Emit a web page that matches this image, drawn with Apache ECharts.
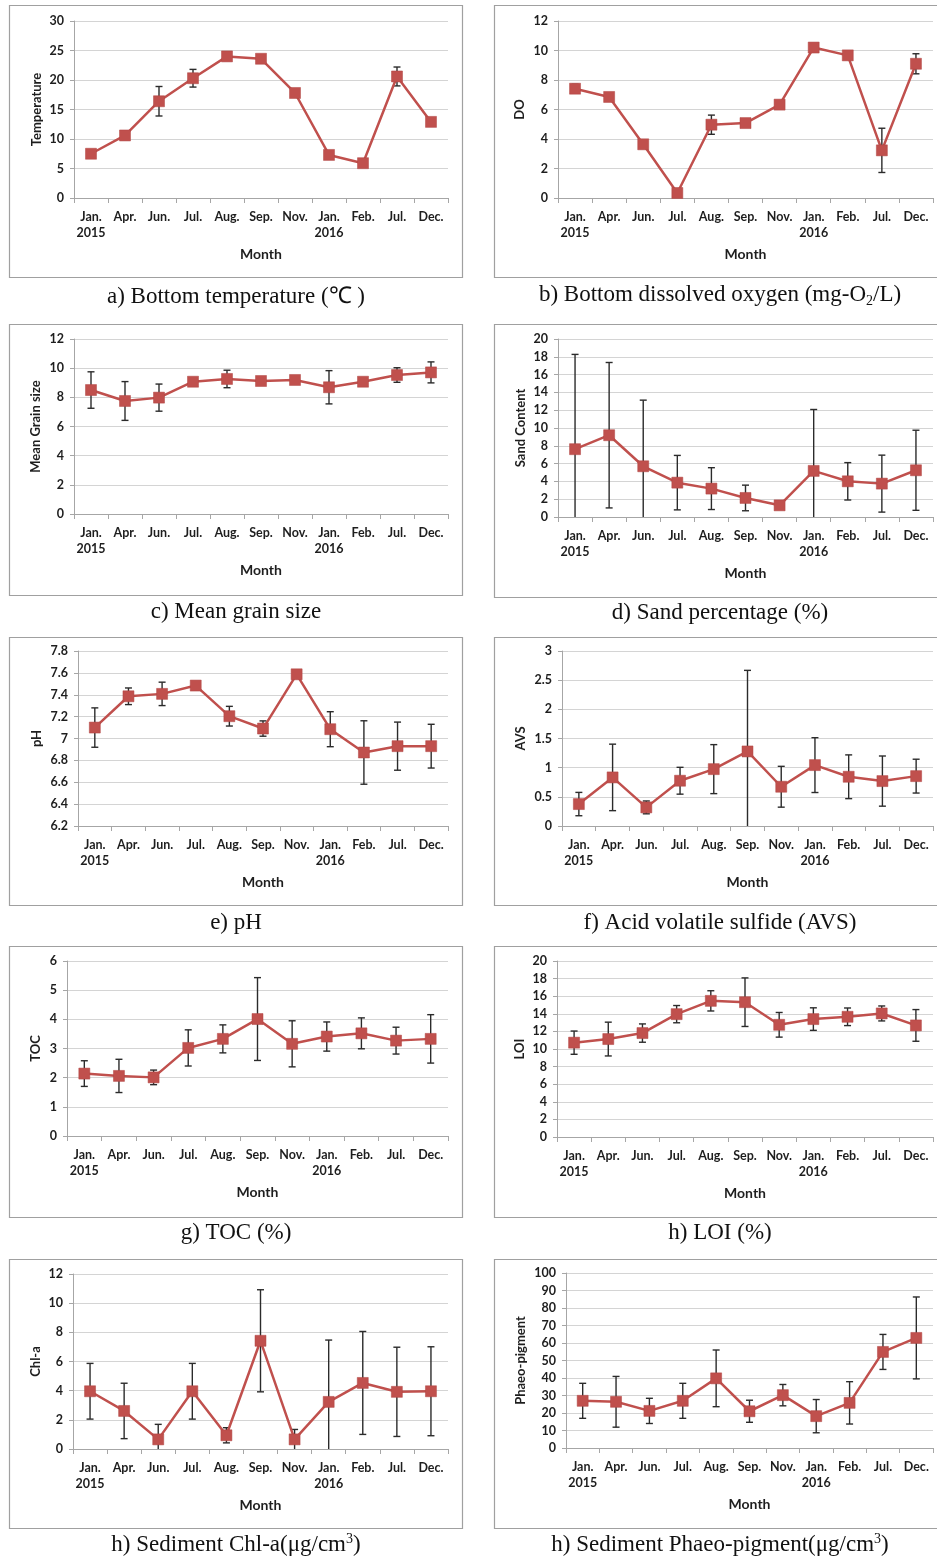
<!DOCTYPE html>
<html>
<head>
<meta charset="utf-8">
<script src="https://cdn.jsdelivr.net/npm/echarts@6/dist/echarts.min.js"></script>
<style>
  html, body { margin: 0; padding: 0; background: #fff; }
  #chart { width: 937px; height: 1559px; }
</style>
</head>
<body>
<div id="chart"></div>
<script>
// months sampled
const months = ['Jan.\n2015', 'Apr.', 'Jun.', 'Jul.', 'Aug.', 'Sep.', 'Nov.', 'Jan.\n2016', 'Feb.', 'Jul.', 'Dec.']

// a) temperature
const tempMean = [7.5, 10.6, 16.4, 20.3, 24.0, 23.6, 17.8, 7.3, 5.9, 20.6, 12.9]
const tempErr = [0.2, 0.2, 2.5, 1.5, 0.2, 0.2, 0.2, 0.2, 0.2, 1.6, 0.2]
// b) DO
const doMean = [7.41, 6.85, 3.64, 0.34, 4.97, 5.08, 6.33, 10.2, 9.67, 3.23, 9.1]
const doErr = [0.3, 0.25, 0.15, 0.15, 0.65, 0.15, 0.15, 0.15, 0.15, 1.5, 0.68]
// c) mean grain size
const grainMean = [8.5, 7.75, 7.98, 9.07, 9.26, 9.12, 9.19, 8.69, 9.07, 9.53, 9.71]
const grainErr = [1.25, 1.33, 0.93, 0.15, 0.6, 0.15, 0.15, 1.14, 0.15, 0.5, 0.72]
// d) sand
const sandMean = [7.62, 9.19, 5.7, 3.86, 3.19, 2.14, 1.31, 5.18, 4.01, 3.75, 5.25]
const sandErr = [10.65, 8.17, 7.43, 3.06, 2.35, 1.44, 0.3, 6.9, 2.1, 3.2, 4.5]
// e) pH
const phMean = [7.1, 7.386, 7.408, 7.484, 7.204, 7.091, 7.587, 7.085, 6.872, 6.93, 6.93]
const phErr = [0.18, 0.076, 0.107, 0.02, 0.09, 0.07, 0.02, 0.16, 0.29, 0.22, 0.2]
// f) AVS
const avsMean = [0.376, 0.833, 0.319, 0.776, 0.975, 1.278, 0.673, 1.044, 0.844, 0.77, 0.855]
const avsErr = [0.2, 0.57, 0.11, 0.23, 0.42, 1.39, 0.35, 0.47, 0.375, 0.43, 0.29]
// g) TOC
const tocMean = [2.14, 2.06, 2.01, 3.02, 3.33, 4.01, 3.16, 3.41, 3.52, 3.27, 3.33]
const tocErr = [0.44, 0.57, 0.25, 0.62, 0.48, 1.42, 0.79, 0.5, 0.53, 0.46, 0.83]
// h) LOI
const loiMean = [10.72, 11.13, 11.81, 13.96, 15.47, 15.32, 12.75, 13.4, 13.66, 14.04, 12.68]
const loiErr = [1.32, 1.92, 1.04, 0.98, 1.15, 2.76, 1.4, 1.28, 1.0, 0.85, 1.8]
// i) Chl-a
const chlMean = [3.96, 2.61, 0.66, 3.96, 0.94, 7.42, 0.66, 3.23, 4.53, 3.92, 3.96]
const chlErr = [1.91, 1.9, 1.03, 1.91, 0.52, 3.5, 0.68, 4.24, 3.53, 3.06, 3.05]
// j) Phaeo-pigment
const phaeoMean = [26.96, 26.4, 21.2, 26.96, 39.8, 21.0, 30.2, 18.2, 25.8, 54.9, 62.9]
const phaeoErr = [10, 14.5, 7.2, 10, 16.2, 6.3, 6.1, 9.5, 12.1, 10, 23.4]

const panels = [
  { name: 'Temperature', mean: tempMean, err: tempErr, min: 0, max: 30, step: 5, caption: 'a) Bottom temperature (℃ )',
    box: [9, 5, 453, 272], grid: [74, 21, 374, 177], nameGap: 31, cap: [236, 297] },
  { name: 'DO', mean: doMean, err: doErr, min: 0, max: 12, step: 2, caption: 'b) Bottom dissolved oxygen (mg-O{sub|2}/L)',
    box: [494, 5, 446, 272], grid: [558, 21, 375, 177], nameGap: 32, cap: [720, 295] },
  { name: 'Mean Grain size', mean: grainMean, err: grainErr, min: 0, max: 12, step: 2, caption: 'c) Mean grain size',
    box: [9, 324, 453, 271], grid: [74, 339, 374, 175], nameGap: 32, cap: [236, 612] },
  { name: 'Sand Content', mean: sandMean, err: sandErr, min: 0, max: 20, step: 2, caption: 'd) Sand percentage (%)',
    box: [494, 324, 446, 273], grid: [558, 339, 375, 178], nameGap: 31, cap: [720, 613] },
  { name: 'pH', mean: phMean, err: phErr, min: 6.2, max: 7.8, step: 0.2, caption: 'e) pH',
    box: [9, 637, 453, 268], grid: [78, 651, 370, 175], nameGap: 35, cap: [236, 923] },
  { name: 'AVS', mean: avsMean, err: avsErr, min: 0, max: 3, step: 0.5, caption: 'f) Acid volatile sulfide (AVS)',
    box: [494, 637, 446, 268], grid: [562, 651, 371, 175], nameGap: 35, cap: [720, 923] },
  { name: 'TOC', mean: tocMean, err: tocErr, min: 0, max: 6, step: 1, caption: 'g) TOC (%)',
    box: [9, 946, 453, 271], grid: [67, 961, 381, 175], nameGap: 25, cap: [236, 1233] },
  { name: 'LOI', mean: loiMean, err: loiErr, min: 0, max: 20, step: 2, caption: 'h) LOI (%)',
    box: [494, 946, 446, 271], grid: [557, 961, 376, 176], nameGap: 31, cap: [720, 1233] },
  { name: 'Chl-a', mean: chlMean, err: chlErr, min: 0, max: 12, step: 2, caption: 'h) Sediment Chl-a(μg/cm{sup|3})',
    box: [9, 1259, 453, 269], grid: [73, 1274, 375, 175], nameGap: 31, cap: [236, 1545] },
  { name: 'Phaeo-pigment', mean: phaeoMean, err: phaeoErr, min: 0, max: 100, step: 10, caption: 'h) Sediment Phaeo-pigment(μg/cm{sup|3})',
    box: [494, 1259, 446, 269], grid: [566, 1273, 367, 175], nameGap: 39, cap: [720, 1545] }
]

const RED = '#C0504D'
const labelFont = { fontFamily: 'Lato', fontWeight: 'bold', fontSize: 12.5, color: '#1e1e1e' }

const chart = echarts.init(document.getElementById('chart'), null, { renderer: 'canvas' })

const grids = []
const xAxes = []
const yAxes = []
const series = []
const graphics = []

panels.forEach((p, k) => {
  grids.push({ left: p.grid[0], top: p.grid[1], width: p.grid[2], height: p.grid[3], containLabel: false })

  xAxes.push({
    type: 'category',
    gridIndex: k,
    data: months,
    boundaryGap: true,
    name: 'Month',
    nameLocation: 'middle',
    nameGap: 49,
    nameTextStyle: { fontFamily: 'Lato', fontWeight: 'bold', fontSize: 14, color: '#1e1e1e' },
    axisLine: { lineStyle: { color: '#a6a6a6', width: 1 } },
    axisTick: { show: true, length: 5, lineStyle: { color: '#a6a6a6' } },
    axisLabel: Object.assign({ margin: 11, lineHeight: 16, interval: 0 }, labelFont),
    splitLine: { show: false }
  })

  yAxes.push({
    type: 'value',
    gridIndex: k,
    min: p.min,
    max: p.max,
    interval: p.step,
    name: p.name,
    nameLocation: 'middle',
    nameGap: p.nameGap,
    nameRotate: 90,
    nameTextStyle: { fontFamily: 'Lato', fontWeight: 'bold', fontSize: 13, color: '#1e1e1e' },
    axisLine: { show: true, lineStyle: { color: '#a6a6a6', width: 1 } },
    axisTick: { show: true, length: 4, lineStyle: { color: '#a6a6a6' } },
    axisLabel: Object.assign({ margin: 10 }, labelFont),
    splitLine: { lineStyle: { color: '#d4d4d4', width: 1 } }
  })

  // error bars: [index, high, low, showLowCap]
  const errData = p.mean.map((m, i) => {
    const hi = m + p.err[i]
    const rawLo = m - p.err[i]
    const lo = Math.max(rawLo, p.min)
    return [i, hi, lo, rawLo >= p.min ? 1 : 0]
  })

  series.push({
    type: 'custom',
    xAxisIndex: k,
    yAxisIndex: k,
    z: 1,
    silent: true,
    data: errData,
    renderItem: (params, api) => {
      const i = api.value(0)
      const top = api.coord([i, api.value(1)])
      const bot = api.coord([i, api.value(2)])
      const c = 3.5
      const style = { stroke: '#2b2b2b', lineWidth: 1.4 }
      const children = [
        { type: 'line', shape: { x1: top[0], y1: top[1], x2: bot[0], y2: bot[1] }, style },
        { type: 'line', shape: { x1: top[0] - c, y1: top[1], x2: top[0] + c, y2: top[1] }, style }
      ]
      if (api.value(3)) {
        children.push({ type: 'line', shape: { x1: bot[0] - c, y1: bot[1], x2: bot[0] + c, y2: bot[1] }, style })
      }
      return { type: 'group', children }
    }
  })

  series.push({
    type: 'line',
    xAxisIndex: k,
    yAxisIndex: k,
    z: 3,
    data: p.mean,
    symbol: 'rect',
    symbolSize: 11,
    lineStyle: { color: RED, width: 2.5 },
    itemStyle: { color: RED, borderColor: '#b04542', borderWidth: 0.5 },
    animation: false
  })

  graphics.push({
    type: 'rect',
    shape: { x: p.box[0] + 0.5, y: p.box[1] + 0.5, width: p.box[2], height: p.box[3] },
    style: { fill: 'none', stroke: '#a0a0a0', lineWidth: 1.2 },
    z: 0
  })

  graphics.push({
    type: 'text',
    x: p.cap[0],
    y: p.cap[1],
    style: {
      text: p.caption,
      font: '23px "Liberation Serif"',
      fill: '#111',
      align: 'center',
      verticalAlign: 'middle',
      lineHeight: 26,
      rich: {
        sub: { fontSize: 14, fontFamily: 'Liberation Serif', lineHeight: 10, verticalAlign: 'bottom', fill: '#111' },
        sup: { fontSize: 14, fontFamily: 'Liberation Serif', lineHeight: 10, verticalAlign: 'top', fill: '#111' }
      }
    },
    z: 5
  })
})

chart.setOption({
  backgroundColor: '#fff',
  animation: false,
  grid: grids,
  xAxis: xAxes,
  yAxis: yAxes,
  series: series,
  graphic: { elements: graphics }
})
</script>
</body>
</html>
